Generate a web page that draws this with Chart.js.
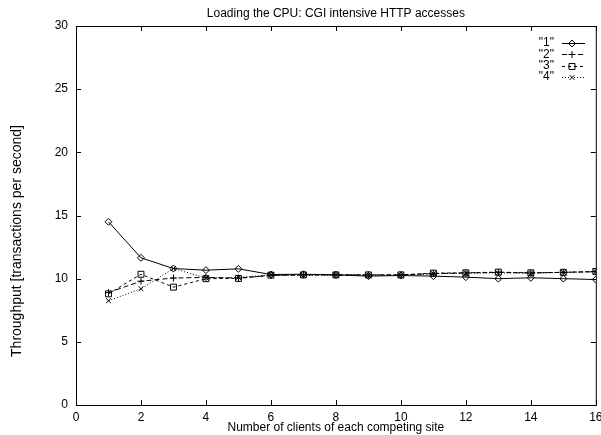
<!DOCTYPE html>
<html>
<head>
<meta charset="utf-8">
<title>Loading the CPU: CGI intensive HTTP accesses</title>
<script src="https://cdn.jsdelivr.net/npm/chart.js"></script>
<style>
    body { margin: 0; background: #fff; }
    canvas { display: block; }
</style>
</head>
<body>
<canvas id="cpuChart" width="601" height="435"></canvas>
<script>
// number of clients per competing site
const clients = [1, 2, 3, 4, 5, 6, 7, 8, 9, 10, 11, 12, 13, 14, 15, 16];

// throughput of each site (transactions per second)
const site1 = [14.5, 11.65, 10.8, 10.67, 10.78, 10.33, 10.35, 10.3, 10.2, 10.25, 10.2, 10.12, 10.0, 10.07, 10.0, 9.93];
const site2 = [8.9, 9.8, 10.05, 10.1, 10.05, 10.25, 10.3, 10.3, 10.3, 10.3, 10.4, 10.45, 10.5, 10.45, 10.5, 10.55];
const site3 = [8.8, 10.35, 9.33, 10.0, 10.02, 10.28, 10.3, 10.3, 10.3, 10.3, 10.44, 10.46, 10.52, 10.46, 10.5, 10.57];
const site4 = [8.25, 9.2, 10.8, 10.05, 10.1, 10.3, 10.25, 10.3, 10.3, 10.25, 10.4, 10.45, 10.45, 10.45, 10.5, 10.55];

const seriesLabels = ['"1"', '"2"', '"3"', '"4"'];

const chartTitle = 'Loading the CPU: CGI intensive HTTP accesses';
const xTitle = 'Number of clients of each competing site';
const yTitle = 'Throughput [transactions per second]';

const FONT = '"Liberation Sans", Arial, Helvetica, sans-serif';

let toPoints = (ys) => ys.map((y, i) => ({ x: clients[i], y: y }));

let makeDataset = (label, values, pointStyle, radius, dash) => ({
    label: label,
    data: toPoints(values),
    borderColor: '#000',
    borderWidth: 1,
    borderDash: dash,
    pointStyle: pointStyle,
    pointRadius: radius,
    pointBorderColor: '#000',
    pointBackgroundColor: 'rgba(0,0,0,0)',
    pointBorderWidth: 1,
    tension: 0,
    fill: false
});

// gnuplot-like frame, inward ticks, titles and key
const gnuplotLook = {
    id: 'gnuplotLook',
    beforeDatasetsDraw(chart) {
        const ctx = chart.ctx;
        const area = chart.chartArea;
        const xs = chart.scales.x;
        const ys = chart.scales.y;
        const tick = 5;

        ctx.save();
        ctx.strokeStyle = '#000';
        ctx.lineWidth = 1;
        ctx.strokeRect(area.left + 0.5, area.top + 0.5, area.right - area.left, area.bottom - area.top);

        ctx.beginPath();
        xs.ticks.forEach((t) => {
            const px = Math.round(xs.getPixelForValue(t.value)) + 0.5;
            ctx.moveTo(px, area.bottom);
            ctx.lineTo(px, area.bottom - tick);
            ctx.moveTo(px, area.top);
            ctx.lineTo(px, area.top + tick);
        });
        ys.ticks.forEach((t) => {
            const py = Math.round(ys.getPixelForValue(t.value)) + 0.5;
            ctx.moveTo(area.left, py);
            ctx.lineTo(area.left + tick, py);
            ctx.moveTo(area.right, py);
            ctx.lineTo(area.right - tick, py);
        });
        ctx.stroke();
        ctx.restore();
    },
    afterDraw(chart) {
        const ctx = chart.ctx;
        const area = chart.chartArea;

        ctx.save();
        ctx.fillStyle = '#000';
        ctx.font = '12px ' + FONT;

        // title over the plot
        ctx.textAlign = 'center';
        ctx.textBaseline = 'middle';
        ctx.fillText(chartTitle, (area.left + area.right) / 2, 14);

        // rotated y label
        ctx.save();
        ctx.font = '14px ' + FONT;
        ctx.translate(17, 241);
        ctx.rotate(-Math.PI / 2);
        ctx.fillText(yTitle, 0, 0);
        ctx.restore();

        // key in the top right corner
        const drawPoint = Chart.helpers && Chart.helpers.drawPoint;
        chart.data.datasets.forEach((ds, i) => {
            const y = 43 + i * 11.3;
            ctx.textAlign = 'right';
            ctx.fillText(ds.label, 554, y);

            ctx.beginPath();
            ctx.setLineDash(ds.borderDash || []);
            ctx.moveTo(562, Math.round(y) + 0.5);
            ctx.lineTo(585, Math.round(y) + 0.5);
            ctx.stroke();
            ctx.setLineDash([]);

            if (drawPoint) {
                ctx.fillStyle = 'rgba(0,0,0,0)';
                drawPoint(ctx, { pointStyle: ds.pointStyle, radius: ds.pointRadius, borderWidth: 1, rotation: 0 }, 572, Math.round(y) + 0.5);
                ctx.fillStyle = '#000';
            }
        });
        ctx.restore();
    }
};

const ctx = document.getElementById('cpuChart');
new Chart(ctx, {
    type: 'line',
    data: {
        datasets: [
            makeDataset(seriesLabels[0], site1, 'rectRot', 3.5, []),
            makeDataset(seriesLabels[1], site2, 'cross', 3.5, [5, 3]),
            makeDataset(seriesLabels[2], site3, 'rect', 4.2, [3, 3]),
            makeDataset(seriesLabels[3], site4, 'crossRot', 3.5, [1, 2])
        ]
    },
    options: {
        responsive: false,
        animation: false,
        layout: {
            padding: { top: 26, right: 5, bottom: 0, left: 0 }
        },
        plugins: {
            legend: { display: false },
            tooltip: { enabled: false },
            title: { display: false }
        },
        scales: {
            x: {
                type: 'linear',
                min: 0,
                max: 16,
                grid: { display: false, drawTicks: false },
                border: { display: false },
                ticks: {
                    stepSize: 2,
                    padding: 5,
                    color: '#000',
                    maxRotation: 0,
                    autoSkip: false,
                    font: { family: FONT, size: 12 }
                },
                title: {
                    display: true,
                    text: xTitle,
                    color: '#000',
                    padding: { top: 0, bottom: 0 },
                    font: { family: FONT, size: 12 }
                },
                afterFit(scale) {
                    scale.height = 30;
                    scale.paddingLeft = 0;
                    scale.paddingRight = 0;
                }
            },
            y: {
                min: 0,
                max: 30,
                grid: { display: false, drawTicks: false },
                border: { display: false },
                ticks: {
                    stepSize: 5,
                    padding: 8,
                    color: '#000',
                    font: { family: FONT, size: 12 }
                },
                afterFit(scale) {
                    scale.width = 76;
                    scale.paddingTop = 0;
                    scale.paddingBottom = 0;
                }
            }
        }
    },
    plugins: [gnuplotLook]
});
</script>
</body>
</html>
